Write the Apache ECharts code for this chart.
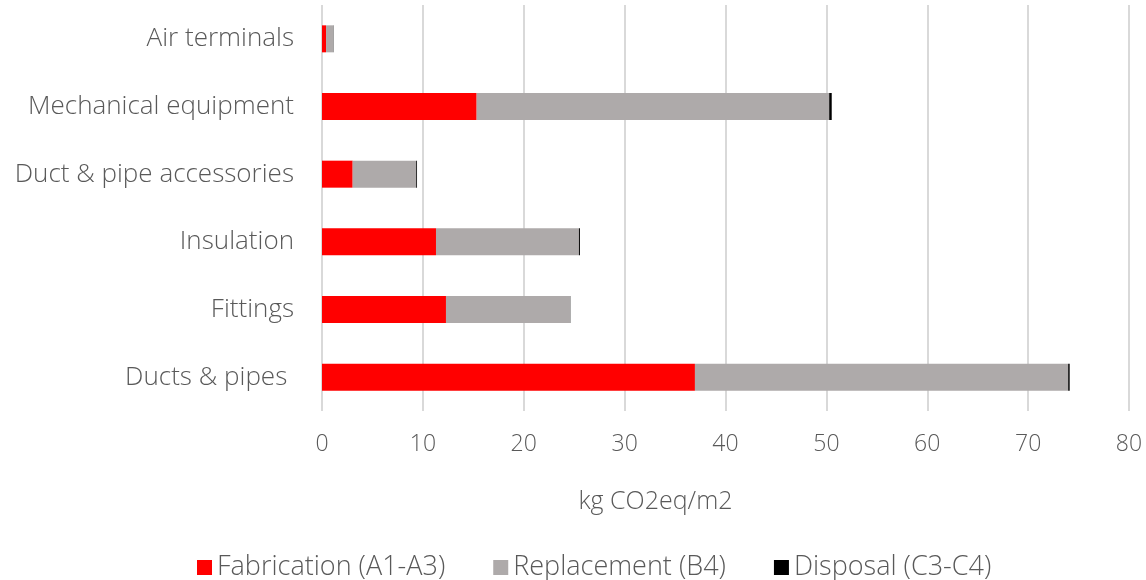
<!DOCTYPE html>
<html>
<head>
<meta charset="utf-8">
<script src="https://cdn.jsdelivr.net/npm/echarts@6/dist/echarts.min.js"></script>
<style>
  html, body { margin: 0; padding: 0; background: #fff; }
  #chart { width: 1146px; height: 580px; }
</style>
</head>
<body>
<div id="chart"></div>
<script>
// Embodied carbon of HVAC components per life-cycle stage (kg CO2eq/m2)
const categories = ['Ducts & pipes ', 'Fittings', 'Insulation', 'Duct & pipe accessories', 'Mechanical equipment', 'Air terminals'];
const fabrication = [36.97, 12.29, 11.3, 3.04, 15.33, 0.4];
const replacement = [37.0, 12.3, 14.17, 6.3, 34.95, 0.75];
const disposal = [0.15, 0.03, 0.1, 0.08, 0.25, 0.02];
const seriesNames = ['Fabrication (A1-A3)', 'Replacement (B4)', 'Disposal (C3-C4)'];
const xTicks = [0, 10, 20, 30, 40, 50, 60, 70, 80];

const FONT = '"Open Sans", "Segoe UI", sans-serif';
const TXT = '#595959';

const chart = echarts.init(document.getElementById('chart'), null, { renderer: 'canvas' });

const colors = ['#FF0000', '#AEAAAA', '#000000'];
const values = [fabrication, replacement, disposal];

chart.setOption({
  animation: false,
  grid: { left: 322, right: 17, top: 5, bottom: 169, containLabel: false },
  legend: {
    top: 549,
    left: 192,
    itemWidth: 15,
    itemHeight: 15,
    itemGap: 48,
    icon: 'rect',
    textStyle: { fontFamily: FONT, fontSize: 27, color: TXT, fontWeight: 300 },
    data: seriesNames
  },
  xAxis: {
    type: 'value',
    min: xTicks[0],
    max: xTicks[xTicks.length - 1],
    interval: 10,
    name: 'kg CO2eq/m2',
    nameLocation: 'middle',
    nameGap: 78,
    // title sits a little left of the plot centre
    nameTextStyle: { fontFamily: FONT, fontSize: 25, color: TXT, fontWeight: 300, padding: [0, 140, 0, 0] },
    axisLine: { show: false },
    axisTick: { show: false },
    axisLabel: { fontFamily: FONT, fontSize: 23, color: TXT, margin: 22, fontWeight: 300 },
    splitLine: { show: true, lineStyle: { color: '#D9D9D9', width: 2 } }
  },
  yAxis: {
    type: 'category',
    data: categories,
    axisLine: { show: false },
    axisTick: { show: false },
    axisLabel: { fontFamily: FONT, fontSize: 26, color: TXT, margin: 28, fontWeight: 300 }
  },
  series: seriesNames.map((name, i) => ({
    name,
    type: 'bar',
    stack: 'total',
    barWidth: 27,
    itemStyle: { color: colors[i] },
    data: values[i]
  }))
});
</script>
</body>
</html>
